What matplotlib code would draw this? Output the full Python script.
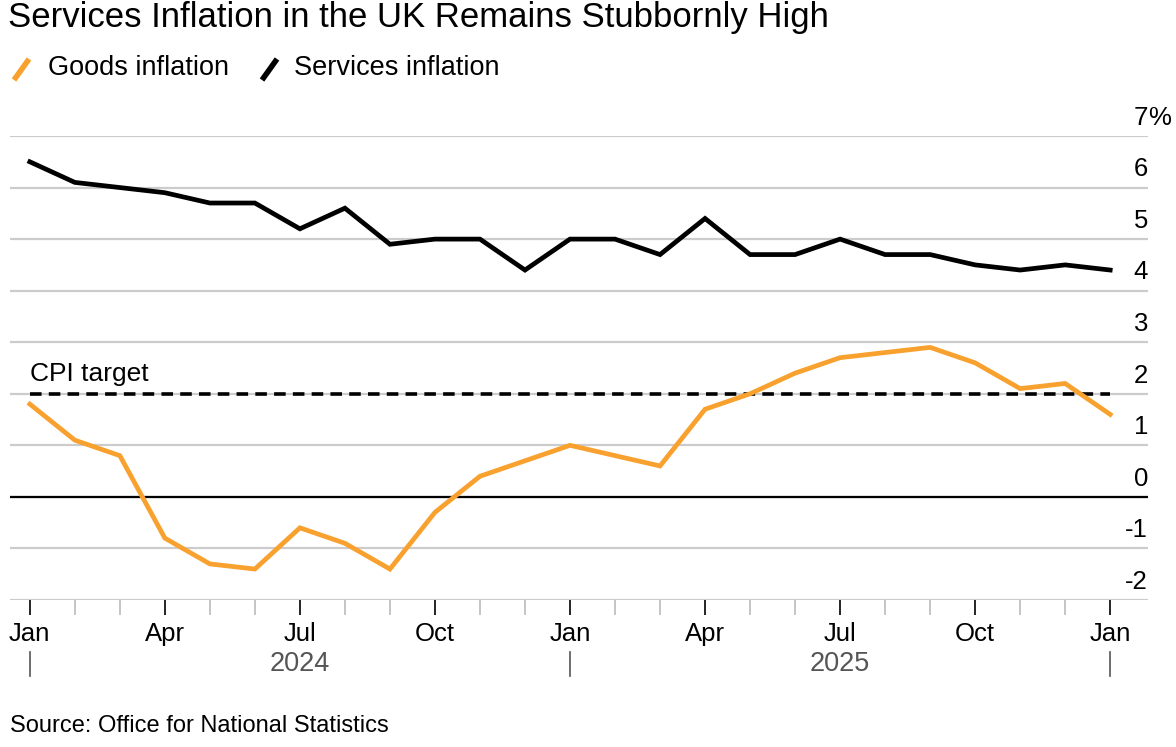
import numpy as np
import matplotlib
matplotlib.use("Agg")
import matplotlib.pyplot as plt
from matplotlib.lines import Line2D

plt.rcParams['font.family'] = ['Liberation Sans', 'DejaVu Sans']

# 2024年1月〜2026年1月の月次データ（前年比、%）
months = ["2024-01", "2024-02", "2024-03", "2024-04", "2024-05", "2024-06",
          "2024-07", "2024-08", "2024-09", "2024-10", "2024-11", "2024-12",
          "2025-01", "2025-02", "2025-03", "2025-04", "2025-05", "2025-06",
          "2025-07", "2025-08", "2025-09", "2025-10", "2025-11", "2025-12",
          "2026-01"]
goods = [1.8, 1.1, 0.8, -0.8, -1.3, -1.4, -0.6, -0.9, -1.4, -0.3, 0.4, 0.7,
         1.0, 0.8, 0.6, 1.7, 2.0, 2.4, 2.7, 2.8, 2.9, 2.6, 2.1, 2.2, 1.6]
services = [6.5, 6.1, 6.0, 5.9, 5.7, 5.7, 5.2, 5.6, 4.9, 5.0, 5.0, 4.4,
            5.0, 5.0, 4.7, 5.4, 4.7, 4.7, 5.0, 4.7, 4.7, 4.5, 4.4, 4.5, 4.4]
cpi_target = 2.0
y_ticks = [-2, -1, 0, 1, 2, 3, 4, 5, 6, 7]
month_labels = ["Jan", "Apr", "Jul", "Oct", "Jan", "Apr", "Jul", "Oct", "Jan"]
years = ["2024", "2025"]

ORANGE = "#F9A12E"
GRID = "#cccccc"

x = np.arange(len(months))

fig = plt.figure(figsize=(11.76, 7.47), dpi=100)
ax = fig.add_axes([10 / 1176, 1 - 600 / 747, 1138 / 1176, 464 / 747])

# グリッドと0ライン
for v in y_ticks:
    ax.axhline(v, color=GRID, lw=1.6, zorder=1)
ax.axhline(0, color="black", lw=1.6, zorder=2)

# CPI目標
ax.plot([x[0], x[-1]], [cpi_target, cpi_target], color="black", lw=2.6,
        ls=(0, (3.2, 2.0)), zorder=3)
ax.text(x[0], cpi_target + 0.16, "CPI target", fontsize=19, ha="left",
        va="bottom", zorder=5)

# 系列
ax.plot(x, goods, color=ORANGE, lw=3.4, zorder=4, solid_joinstyle="miter")
ax.plot(x, services, color="black", lw=3.4, zorder=4, solid_joinstyle="miter")

ax.set_xlim(-0.44, 24.84)
ax.set_ylim(-2, 7)
for s in ax.spines.values():
    s.set_visible(False)

# y軸ラベル（右側、グリッド線の上）
ax.set_yticks([])
for v in y_ticks:
    ax.text(1.0, v + 0.12, str(v), transform=ax.get_yaxis_transform(),
            ha="right", va="bottom", fontsize=18.5)
ax.text(1.0, 7 + 0.12, "%", transform=ax.get_yaxis_transform(),
        ha="left", va="bottom", fontsize=18.5)

# x軸目盛り
ax.set_xticks(x[::3])
ax.set_xticklabels(month_labels, fontsize=18.5)
ax.set_xticks(x, minor=True)
ax.tick_params(axis="x", which="major", length=11, width=1.2, color="black",
               pad=5)
ax.tick_params(axis="x", which="minor", length=11, width=1.2, color="#bbbbbb")

# 年の区切りとラベル
tr = ax.get_xaxis_transform()
for xi in [0, 12, 24]:
    ax.plot([xi, xi], [-0.112, -0.164], transform=tr, color="#555555",
            lw=1.2, clip_on=False)
for i, yr in enumerate(years):
    ax.text(6 + 12 * i, -0.138, yr, transform=tr, ha="center", va="center",
            fontsize=19.5, color="#555555")

# タイトルと凡例
fig.text(8 / 1176, 1 - 18 / 747, "Services Inflation in the UK Remains Stubbornly High",
         fontsize=25, ha="left", va="center")
fig.add_artist(Line2D([14 / 1176, 29 / 1176], [1 - 80 / 747, 1 - 59 / 747],
                      color=ORANGE, lw=4, solid_capstyle="butt"))
fig.text(48 / 1176, 1 - 68 / 747, "Goods inflation", fontsize=19.5, ha="left",
         va="center")
fig.add_artist(Line2D([262 / 1176, 277 / 1176], [1 - 80 / 747, 1 - 59 / 747],
                      color="black", lw=4, solid_capstyle="butt"))
fig.text(294 / 1176, 1 - 68 / 747, "Services inflation", fontsize=19.5,
         ha="left", va="center")

fig.text(10 / 1176, 1 - 726 / 747, "Source: Office for National Statistics",
         fontsize=17, ha="left", va="center")

fig.savefig("out.png", dpi=100)
